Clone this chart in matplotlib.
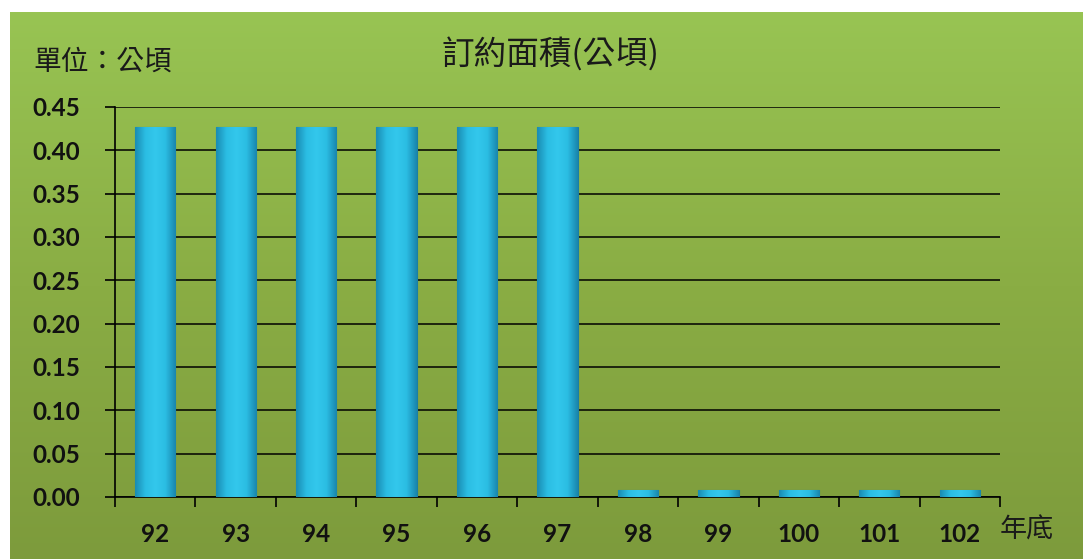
import numpy as np
import matplotlib
matplotlib.use("Agg")
import matplotlib.pyplot as plt
from matplotlib.colors import LinearSegmentedColormap

years = ["92", "93", "94", "95", "96", "97", "98", "99", "100", "101", "102"]
area = [0.427, 0.427, 0.427, 0.427, 0.427, 0.427, 0.008, 0.008, 0.008, 0.008, 0.008]
yticks = [0.00, 0.05, 0.10, 0.15, 0.20, 0.25, 0.30, 0.35, 0.40, 0.45]
title = "訂約面積(公頃)"
unit_label = "單位：公頃"
xunit = "年底"

W, H = 1083, 559
fig = plt.figure(figsize=(W / 100, H / 100), dpi=100, facecolor="white")

# background gradient panel
bg = fig.add_axes([10 / W, 0, 1 - 10 / W, (H - 12) / H], zorder=0)
bgcmap = LinearSegmentedColormap.from_list("bg", ["#7d9b3c", "#8aad44", "#98c453"])
grad = np.linspace(0, 1, 256).reshape(-1, 1)
bg.imshow(grad, aspect="auto", cmap=bgcmap, origin="lower", extent=[0, 1, 0, 1])
bg.set_axis_off()

ax = fig.add_axes([115 / W, 1 - 497 / H, (1000 - 115) / W, (497 - 107) / H], zorder=1)
ax.patch.set_alpha(0)
x = np.arange(len(years))
bars = ax.bar(x, area, width=0.5, color="#2ab7dd", edgecolor="#1a7fa3", linewidth=0.8, zorder=3)

barcmap = LinearSegmentedColormap.from_list("bar", ["#1a8cb3", "#2bbde3", "#33c8ec", "#2bbde3", "#1a86ad"])
hgrad = np.linspace(0, 1, 64).reshape(1, -1)
for b in bars:
    bx, by = b.get_x(), b.get_y()
    bw, bh = b.get_width(), b.get_height()
    im = ax.imshow(hgrad, cmap=barcmap, aspect="auto",
                   extent=[bx, bx + bw, by, by + bh], zorder=3.5)
    im.set_clip_path(b)

ax.set_xlim(-0.5, len(years) - 0.5)
ax.set_ylim(0, 0.45)
ax.set_yticks(yticks)
ax.set_yticklabels([f"{v:.2f}" for v in yticks])
ax.set_xticks(x)
ax.set_xticklabels(years)
ax.set_xticks(np.arange(-0.5, len(years), 1.0), minor=True)
ax.tick_params(axis="x", which="major", length=0, pad=19)
ax.tick_params(axis="x", which="minor", length=7, width=1.2, direction="out", color="black")
ax.tick_params(axis="y", which="major", length=7, width=1.2, direction="out", pad=18)
for lab in ax.get_xticklabels() + ax.get_yticklabels():
    lab.set_fontfamily("Lato")
    lab.set_fontweight("bold")
    lab.set_fontsize(17.5)
    lab.set_color("#111111")

ax.grid(axis="y", color="black", linewidth=1.1, zorder=1)
ax.set_axisbelow(True)
for s in ["top", "right"]:
    ax.spines[s].set_visible(False)
ax.spines["left"].set_linewidth(1.2)
ax.spines["bottom"].set_linewidth(1.2)

cjk = ["Noto Sans CJK TC", "DejaVu Sans"]
fig.text(550 / W, 1 - 55 / H, title, ha="center", va="center", fontsize=23.5,
         family=cjk, fontweight="medium", color="#1a1a1a")
fig.text(33 / W, 1 - 62 / H, unit_label, ha="left", va="center", fontsize=20,
         family=cjk, fontweight="medium", color="#1a1a1a")
fig.text(1000 / W, 1 - 530 / H, xunit, ha="left", va="center", fontsize=19.5,
         family=cjk, fontweight="medium", color="#1a1a1a")

fig.savefig("out.png", dpi=100, facecolor="white")
